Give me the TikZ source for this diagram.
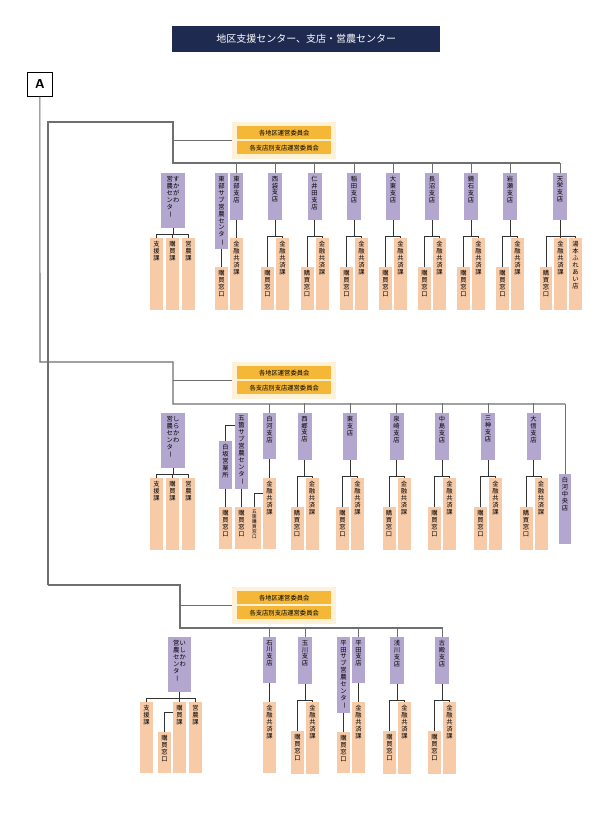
\documentclass[tikz,border=0pt]{standalone}
\usepackage{fontspec}
\setmainfont{Noto Sans CJK JP}
\usetikzlibrary{calc}
\definecolor{purp}{HTML}{B3A6CF}
\definecolor{peach}{HTML}{F8CBA8}
\definecolor{gold}{HTML}{F4B738}
\definecolor{cream}{HTML}{FDF1D8}
\definecolor{navy}{HTML}{1E2A50}
\definecolor{lgray}{HTML}{6F6F6F}
\makeatletter
\def\vt@dash{ー}
\newcommand\vt[1]{\vtop{\baselineskip=1.1em\@tfor\vt@c:=#1\do{\hbox to 1em{\hss\ifx\vt@c\vt@dash\rotatebox[origin=c]{-90}{ー}\else\vt@c\fi\hss}}}}
\makeatother
\tikzset{
 pb/.style={fill=purp,draw=none,inner sep=0pt},
 ob/.style={fill=peach,draw=none,inner sep=0pt},
 txt/.style={inner sep=0pt,font=\fontsize{6.3}{7}\selectfont},
 ln/.style={draw=lgray,line width=1.1pt},
 fl/.style={draw=black!80,line width=0.7pt},
}
% \bx[style]{name}{xl}{xr}{yt}{yb}{text}
\newcommand\bx[7][pb]{%
 \node[#1,minimum width={((#4)-(#3))*1pt},minimum height={((#6)-(#5))*1pt},anchor=north west] (#2) at ({#3},{#5}) {};
 \node[txt,anchor=north] (#2-t) at ({((#3)+(#4))/2},{(#5)+3}) {#7};}
% \branch{id}{c}{off}{text}
\newcommand\branch[4]{%
 \bx[pb]{#1}{#2-7}{#2+7}{#3+173}{#3+220}{\vt{#4}}
 \bx[ob]{#1-k}{#2-14}{#2-1}{#3+267}{#3+310}{\vt{購買窓口}}
 \bx[ob]{#1-f}{#2+1}{#2+14}{#3+238}{#3+310}{\vt{金融共済課}}
 \draw[fl] (#1.south) -- ++(0,16) -| (#1-k.north);
 \draw[fl] (#1.south) -- ++(0,16) -| (#1-f.north);
 \draw[ln] (#1.north) -- ++(0,-10);}
% \ctr{id}{cx}{off}{h}{line1}{line2}
\newcommand\ctr[6]{%
 \bx[pb]{#1}{#2-12}{#2+12}{#3+173}{#3+#4}{\vt{#6}\vt{#5}}
 \bx[ob]{#1-a}{#2-23}{#2-10}{#3+238}{#3+310}{\vt{支援課}}
 \bx[ob]{#1-b}{#2-7}{#2+6}{#3+238}{#3+310}{\vt{購買課}}
 \bx[ob]{#1-c}{#2+9}{#2+22}{#3+238}{#3+310}{\vt{営農課}}
 \foreach \q in {a,b,c}{\draw[fl] (#1.south) -- ++(0,6) -| (#1-\q.north);}}
\begin{document}
\begin{tikzpicture}[x=1pt,y=-1pt]
\useasboundingbox[fill=white] (0,0) rectangle (612,817);
% title
\node[fill=navy,text=white,minimum width=268pt,minimum height=26pt,inner sep=0pt,anchor=north west,font=\fontsize{10}{12}\selectfont] (title) at (172,26) {地区支援センター、支店・営農センター};
\node[draw=black,line width=0.7pt,fill=white,minimum width=25pt,minimum height=24pt,inner sep=0pt,anchor=north west,font=\sffamily\bfseries\fontsize{13}{14}\selectfont] (A) at (27,72) {A};
% trunk
\coordinate (t1) at (48,122); \coordinate (t1e) at (173,122);
\coordinate (s1) at (173,163); \coordinate (s1e) at (560,163);
\coordinate (a2) at (40,362); \coordinate (t2e) at (173,362);
\coordinate (s2) at (173,404); \coordinate (s2e) at (565,404);
\coordinate (t3) at (48,585); \coordinate (t3e) at (180,585);
\coordinate (s3) at (180,628); \coordinate (s3e) at (442,628);
\draw[ln] (A.south) -- (a2) -- (t2e) -- (s2) -- (s2e);
\draw[ln] (t3) -- (t1) -- (t1e) -- (s1) -- (s1e);
\draw[ln] (t3) -- (t3e) -- (s3) -- (s3e);
% committees
\foreach \i/\y/\x in {1/122/173,2/362/173,3/587/180}{
 \node[fill=cream,minimum width=104pt,minimum height=37pt,inner sep=0pt,anchor=north west] (cm\i) at (232,\y) {};
 \node[fill=gold,minimum width=94pt,minimum height=13pt,inner sep=0pt,anchor=north,font=\fontsize{6.3}{7}\selectfont] (cm\i a) at ($(cm\i.north)+(0,4)$) {各地区運営委員会};
 \node[fill=gold,minimum width=94pt,minimum height=13pt,inner sep=0pt,anchor=north,font=\fontsize{6.3}{7}\selectfont] (cm\i b) at ($(cm\i.north)+(0,19)$) {各支店別支店運営委員会};
 \draw[ln] (cm\i.west) -- (cm\i.west -| \x,0);
}
% ---------- section 1 ----------
\ctr{sukagawa}{173}{0}{228}{すかがわ}{営農センター}
\bx[pb]{tobusub}{215}{228}{173}{249}{\vt{東部サブ営農センター}}
\bx[ob]{tobusub-k}{215}{228}{267}{310}{\vt{購買窓口}}
\draw[fl] (tobusub.south) -- (tobusub-k.north);
\bx[pb]{tobu}{230}{243}{173}{220}{\vt{東部支店}}
\bx[ob]{tobu-f}{230}{243}{238}{310}{\vt{金融共済課}}
\draw[fl] (tobu.south) -- (tobu-f.north);
\draw[ln] (tobu.north) -- ++(0,-10);
\branch{nishifukuro}{275}{0}{西袋支店}
\branch{niida}{314.5}{0}{仁井田支店}
\branch{inada}{354}{0}{稲田支店}
\branch{daito}{393}{0}{大東支店}
\branch{naganuma}{432}{0}{長沼支店}
\branch{kagamiishi}{471}{0}{鏡石支店}
\branch{iwase}{510}{0}{岩瀬支店}
\bx[pb]{tenei}{553}{567}{173}{220}{\vt{天栄支店}}
\bx[ob]{tenei-k}{540}{552}{267}{310}{\vt{購買窓口}}
\bx[ob]{tenei-f}{554}{567}{238}{310}{\vt{金融共済課}}
\bx[ob]{tenei-y}{569}{582}{238}{310}{\vt{湯本ふれあい店}}
\foreach \q in {k,f,y}{\draw[fl] (tenei.south) -- ++(0,16) -| (tenei-\q.north);}
\draw[ln] (tenei.north) -- ++(0,-10);
% ---------- section 2 ----------
\ctr{shirakawa}{173}{240}{228}{しらかわ}{営農センター}
\bx[pb]{goka}{235}{248}{413}{489}{\vt{五箇サブ営農センター}}
\bx[ob]{goka-k}{235}{248}{507}{549}{\vt{購買窓口}}
\draw[fl] (goka.south) -- (goka-k.north);
\bx[pb]{shirasaka}{219}{232}{441}{489}{\vt{白坂営業所}}
\bx[ob]{shirasaka-k}{219}{232}{507}{549}{\vt{購買窓口}}
\draw[fl] (shirasaka.south) -- (shirasaka-k.north);
\draw[fl] (shirasaka.north) |- ($(goka.north west)+(0,12)$);
\bx[pb]{shirakawash}{263}{276}{413}{459}{\vt{白河支店}}
\bx[ob]{shirakawash-f}{263}{276}{478}{549}{\vt{金融共済課}}
\draw[fl] (shirakawash.south) -- (shirakawash-f.north);
\draw[ln] (shirakawash.north) -- ++(0,-9);
\bx[ob]{gokak}{248}{261}{507}{549}{{\fontsize{4.6}{5}\selectfont\vt{五箇購買窓口}}}
\draw[fl] ($(shirakawash-f.north west)+(0,15)$) -| (gokak.north);
\branch{nishigo}{304.5}{240}{西郷支店}
\branch{higashi}{350}{240}{東支店}
\branch{izumizaki}{396.5}{240}{泉崎支店}
\branch{nakajima}{442}{240}{中島支店}
\branch{mikami}{488}{240}{三神支店}
\branch{taishin}{533.5}{240}{大信支店}
\bx[pb]{chuo}{559}{571}{474}{544}{\vt{白河中央店}}
\draw[ln] (chuo.north) -- (chuo.north |- s2);
% ---------- section 3 ----------
\bx[pb]{ishikawa}{168}{191}{637}{692}{\vt{営農センター}\vt{いしかわ}}
\bx[ob]{ishikawa-a}{140}{153}{702}{773}{\vt{支援課}}
\bx[ob]{ishikawa-b}{173}{186}{702}{773}{\vt{購買課}}
\bx[ob]{ishikawa-c}{189}{202}{702}{773}{\vt{営農課}}
\foreach \q in {a,b,c}{\draw[fl] (ishikawa.south) -- ++(0,6) -| (ishikawa-\q.north);}
\bx[ob]{ishikawa-k}{158}{171}{732}{773}{\vt{購買窓口}}
\draw[fl] ($(ishikawa-b.north west)+(0,10)$) -| (ishikawa-k.north);
\bx[pb]{ishikawash}{263}{276}{637}{683}{\vt{石川支店}}
\bx[ob]{ishikawash-f}{263}{276}{702}{773}{\vt{金融共済課}}
\draw[fl] (ishikawash.south) -- (ishikawash-f.north);
\draw[ln] (ishikawash.north) -- ++(0,-9);
\branch{tamakawa}{305}{464}{玉川支店}
\bx[pb]{hiratasub}{337}{350}{637}{713}{\vt{平田サブ営農センター}}
\bx[ob]{hiratasub-k}{337}{350}{732}{773}{\vt{購買窓口}}
\draw[fl] (hiratasub.south) -- (hiratasub-k.north);
\bx[pb]{hirata}{352}{365}{637}{683}{\vt{平田支店}}
\bx[ob]{hirata-f}{352}{365}{702}{773}{\vt{金融共済課}}
\draw[fl] (hirata.south) -- (hirata-f.north);
\draw[ln] (hirata.north) -- ++(0,-9);
\branch{asakawa}{397}{464}{浅川支店}
\branch{furudono}{442}{464}{古殿支店}
\end{tikzpicture}
\end{document}
